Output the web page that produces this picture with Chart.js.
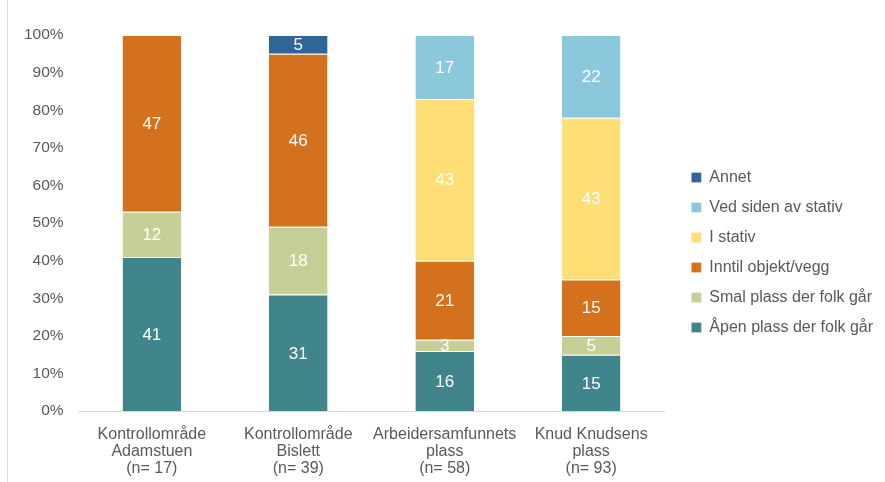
<!DOCTYPE html>
<html>
<head>
<meta charset="utf-8">
<script src="https://cdn.jsdelivr.net/npm/chart.js@4/dist/chart.umd.min.js"></script>
<style>
  html, body { margin: 0; padding: 0; background: #fff; }
  #wrap { position: relative; width: 885px; height: 482px; }
  #edge { position: absolute; left: 7px; top: 0; width: 1px; height: 482px; background: #dcdcdc; }
</style>
</head>
<body>
<div id="wrap">
  <div id="edge"></div>
  <canvas id="chart" width="885" height="482"></canvas>
</div>
<script>
// categories (multi-line labels) and percentages per series
const categories = [
  ['Kontrollområde', 'Adamstuen', '(n= 17)'],
  ['Kontrollområde', 'Bislett', '(n= 39)'],
  ['Arbeidersamfunnets', 'plass', '(n= 58)'],
  ['Knud Knudsens', 'plass', '(n= 93)']
];
const apenPlass   = [41, 31, 16, 15];
const smalPlass   = [12, 18, 3, 5];
const inntilVegg  = [47, 46, 21, 15];
const iStativ     = [null, null, 43, 43];
const vedSiden    = [null, null, 17, 22];
const annet       = [null, 5, null, null];
const yTicks = [0, 10, 20, 30, 40, 50, 60, 70, 80, 90, 100];

const FONT = '"Liberation Sans", Arial, sans-serif';
const GREY = '#595959';

function ds(label, data, color) {
  return {
    label, data,
    backgroundColor: color,
    borderColor: '#ffffff',
    borderWidth: { top: 1, bottom: 0, left: 0, right: 0 },
    borderSkipped: false,
    barPercentage: 0.4,
    categoryPercentage: 1.0
  };
}

// white value labels in the middle of every segment
const segmentLabels = {
  id: 'segmentLabels',
  afterDatasetsDraw(chart) {
    const ctx = chart.ctx;
    ctx.save();
    ctx.font = '17px ' + FONT;
    ctx.fillStyle = '#ffffff';
    ctx.textAlign = 'center';
    ctx.textBaseline = 'middle';
    chart.data.datasets.forEach((d, i) => {
      const meta = chart.getDatasetMeta(i);
      meta.data.forEach((bar, j) => {
        const v = d.data[j];
        if (v == null) return;
        const { x, y, base } = bar.getProps(['x', 'y', 'base'], true);
        ctx.fillText(String(v), x, (y + base) / 2 + 1);
      });
    });
    ctx.restore();
  }
};

// nudge the legend a little right and up, like the original
const legendShift = {
  id: 'legendShift',
  afterLayout(chart) {
    const lg = chart.legend;
    if (!lg) return;
    lg.left += 13; lg.right += 13;
    lg.top -= 11; lg.bottom -= 11;
  }
};

new Chart(document.getElementById('chart'), {
  type: 'bar',
  data: {
    labels: categories,
    datasets: [
      ds('Åpen plass der folk går', apenPlass, '#3f858b'),
      ds('Smal plass der folk går', smalPlass, '#c6cf95'),
      ds('Inntil objekt/vegg', inntilVegg, '#d4711d'),
      ds('I stativ', iStativ, '#ffdf75'),
      ds('Ved siden av stativ', vedSiden, '#8cc8dc'),
      ds('Annet', annet, '#2f6599')
    ]
  },
  options: {
    responsive: false,
    animation: false,
    layout: { padding: { left: 9, right: 15, top: 35, bottom: -10 } },
    scales: {
      x: {
        stacked: true,
        grid: { display: false, drawTicks: false },
        border: { display: true, color: '#d9d9d9', width: 1 },
        ticks: { color: GREY, font: { family: FONT, size: 16, lineHeight: 1.06 }, padding: 15, maxRotation: 0, autoSkip: false }
      },
      y: {
        stacked: true,
        min: 0, max: 100,
        afterBuildTicks(axis) { axis.ticks = yTicks.map(v => ({ value: v })); },
        grid: { display: false, drawTicks: false },
        border: { display: false },
        ticks: { color: GREY, font: { family: FONT, size: 15.5 }, padding: 15, callback: v => v + '%' }
      }
    },
    plugins: {
      legend: {
        position: 'right',
        reverse: true,
        labels: { color: GREY, font: { family: FONT, size: 16 }, boxWidth: 10, boxHeight: 10, padding: 14 }
      },
      tooltip: { enabled: false }
    }
  },
  plugins: [segmentLabels, legendShift]
});
</script>
</body>
</html>
